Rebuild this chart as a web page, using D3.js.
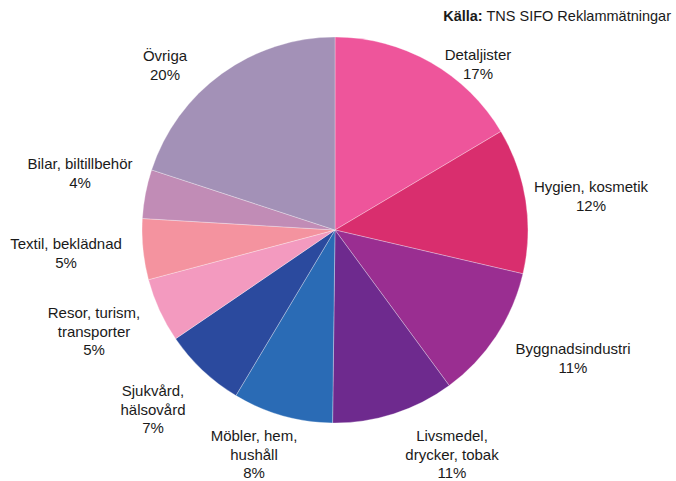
<!DOCTYPE html>
<html>
<head>
<meta charset="utf-8">
<script src="https://cdn.jsdelivr.net/npm/d3@7"></script>
<style>
  body { margin: 0; background: #fff; }
  text { font-family: "Liberation Sans", Arial, sans-serif; fill: #1a1a1a; }
</style>
</head>
<body>
<div id="chart-area"></div>
<script>

// Data
var categories = ["Detaljister", "Hygien, kosmetik", "Byggnadsindustri", "Livsmedel, drycker, tobak",
    "Möbler, hem, hushåll", "Sjukvård, hälsovård", "Resor, turism, transporter",
    "Textil, beklädnad", "Bilar, biltillbehör", "Övriga"];
// slice sizes
var shares = [16.5, 12.2, 11.3, 10.3, 8.4, 6.9, 5.4, 5.1, 4.1, 20];
// percentages as printed in the labels
var pctLabels = [17, 12, 11, 11, 8, 7, 5, 5, 4, 20];
var colors = ["#ee559b", "#d92e6e", "#9a2e91", "#6e2a8e", "#2a6bb5",
    "#2b4a9e", "#f39abf", "#f4939f", "#c18cb6", "#a391b7"];

// label lines (how each category is split) and their centres
var labelLines = [["Detaljister"], ["Hygien, kosmetik"], ["Byggnadsindustri"],
    ["Livsmedel,", "drycker, tobak"], ["Möbler, hem,", "hushåll"], ["Sjukvård,", "hälsovård"],
    ["Resor, turism,", "transporter"], ["Textil, beklädnad"], ["Bilar, biltillbehör"], ["Övriga"]];
var labelPos = [[478, 55], [591, 187], [573, 349], [452, 436], [254, 436],
    [153, 391], [94, 313], [66, 244], [80, 164], [165, 56]];

var width = 676, height = 481;
var cx = 335, cy = 230, radius = 193;

var svg = d3.select("#chart-area")
    .append("svg")
        .attr("width", width)
        .attr("height", height);

// Source
var src = svg.append("text")
    .attr("x", 671)
    .attr("y", 21)
    .attr("text-anchor", "end")
    .attr("font-size", "14.5px");
src.append("tspan").attr("font-weight", "bold").text("Källa:");
src.append("tspan").text(" TNS SIFO Reklammätningar");

var pie = d3.pie().sort(null).value(function(d) { return d; });
var arc = d3.arc().innerRadius(0).outerRadius(radius);

var g = svg.append("g")
    .attr("transform", "translate(" + cx + "," + cy + ")");

g.selectAll("path")
    .data(pie(shares))
    .enter()
    .append("path")
        .attr("d", arc)
        .attr("fill", function(d, i) { return colors[i]; })
        .attr("stroke", "#ffffff")
        .attr("stroke-opacity", 0.5)
        .attr("stroke-width", 0.6);

// Labels
var labels = svg.selectAll("text.label")
    .data(categories)
    .enter()
    .append("text")
        .attr("class", "label")
        .attr("text-anchor", "middle")
        .attr("font-size", "15px")
        .attr("x", function(d, i) { return labelPos[i][0]; })
        .attr("y", function(d, i) { return labelPos[i][1]; });

labels.each(function(d, i) {
    var t = d3.select(this);
    var lines = labelLines[i].concat([pctLabels[i] + "%"]);
    lines.forEach(function(line, j) {
        t.append("tspan")
            .attr("x", labelPos[i][0])
            .attr("dy", j == 0 ? "0.35em" : 18.5)
            .text(line);
    });
});

</script>
</body>
</html>
